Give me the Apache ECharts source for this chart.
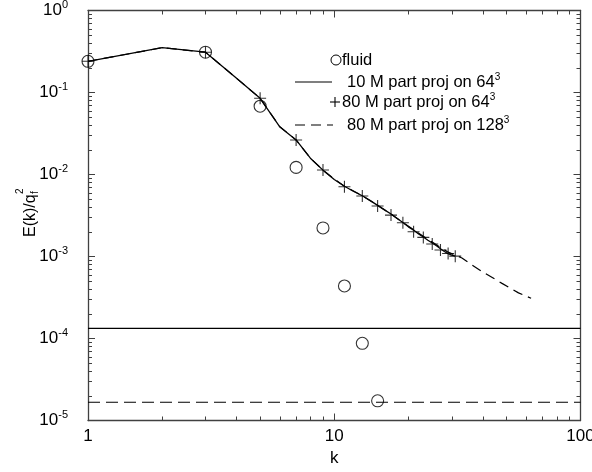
<!DOCTYPE html>
<html>
<head>
<meta charset="utf-8">
<script src="https://cdn.jsdelivr.net/npm/echarts@6/dist/echarts.min.js"></script>
<style>
  html, body { margin: 0; padding: 0; background: #fff; }
  #chart { width: 592px; height: 472px; }
</style>
</head>
<body>
<div id="chart"></div>
<script>
// Energy spectrum E(k)/q_f^2 of the fluid and of particle projections
const fluidK = [1, 3, 5, 7, 9, 11, 13, 15];
const fluidE = [0.24, 0.31, 0.068, 0.0122, 0.00223, 0.000437, 0.0000874, 0.0000174];

const proj10M64K = [1, 2, 3, 4, 5, 6, 7, 8, 9, 10, 11, 12, 13, 14, 15, 16, 17, 18, 19, 20,
                    21, 22, 23, 24, 25, 26, 27, 28, 29, 30, 31];
const proj10M64E = [0.24, 0.352, 0.31, 0.15, 0.085, 0.0383, 0.0264, 0.0158, 0.0113, 0.0087,
                    0.0072, 0.0062, 0.0055, 0.0048, 0.0042, 0.0037, 0.0033, 0.0029, 0.0026, 0.0023,
                    0.0021, 0.00188, 0.00173, 0.00158, 0.00146, 0.00135, 0.00124, 0.00115, 0.00108, 0.00104, 0.00101];

const proj80M64K = [1, 3, 5, 7, 9, 11, 13, 15, 17, 19, 21, 23, 25, 27, 29, 31];
const proj80M64E = [0.24, 0.31, 0.085, 0.0264, 0.01135, 0.0071, 0.00547, 0.00413, 0.0032, 0.00258,
                    0.002, 0.00171, 0.00142, 0.0012, 0.00109, 0.00101];

const proj80M128K = [1, 2, 3, 4, 5, 6, 7, 8, 9, 10, 11, 13, 15, 17, 19, 21, 23, 25, 27, 29, 31,
                     33, 36, 40, 44, 48, 52, 56, 60, 63];
const proj80M128E = [0.24, 0.352, 0.31, 0.15, 0.085, 0.0385, 0.0264, 0.0158, 0.0113, 0.0088, 0.0072,
                     0.0055, 0.0042, 0.0033, 0.0026, 0.00212, 0.00176, 0.0015, 0.00129, 0.00113, 0.00104,
                     0.00096, 0.0008, 0.00065, 0.00055, 0.00047, 0.00041, 0.00036, 0.00033, 0.00031];

// Noise levels of the two particle counts
const noise10M = 1.33e-4;
const noise80M = 1.67e-5;

const kRange = [1, 100];
const eRange = [1e-5, 1];

// Minor tick positions for the log axes
const xMinor = [2, 3, 4, 5, 6, 7, 8, 9, 20, 30, 40, 50, 60, 70, 80, 90];
const yMantissa = [2, 3, 4, 5, 6, 7, 8, 9];
const yDecades = [1e-5, 1e-4, 1e-3, 1e-2, 1e-1];

const FONT = "'Liberation Sans', Arial, Helvetica, sans-serif";
const AXIS_COLOR = '#404040';

const minorData = [];
xMinor.forEach(v => minorData.push([v, 1e-3, 0]));
yDecades.forEach(d => yMantissa.forEach(m => minorData.push([10, m * d, 1])));

const chart = echarts.init(document.getElementById('chart'), null, { renderer: 'canvas' });

const axisLine = { show: true, lineStyle: { color: AXIS_COLOR, width: 1.3 } };
const axisTick = { show: true, inside: true, length: 7, lineStyle: { color: AXIS_COLOR, width: 1 } };

const supRich = {
  b: { fontSize: 17, fontFamily: FONT, color: '#000', lineHeight: 22 },
  s: { fontSize: 11, fontFamily: FONT, color: '#000', lineHeight: 10, verticalAlign: 'top' }
};

function expLabel(v) {
  const e = Math.round(Math.log10(v));
  return '{b|10}{s|' + (e === 0 ? '0' : '-' + (-e)) + '}';
}

const legendRich = {
  b: { font: '16.5px ' + FONT, fill: '#000', lineHeight: 20 },
  s: { font: '10px ' + FONT, fill: '#000', lineHeight: 10, verticalAlign: 'top' }
};

const option = {
  backgroundColor: '#fff',
  animation: false,
  grid: { left: 88, top: 10.5, width: 492.5, height: 410, containLabel: false, outerBoundsMode: 'none' },
  xAxis: [
    {
      type: 'log', logBase: 10, min: kRange[0], max: kRange[1], position: 'bottom',
      axisLine: axisLine, axisTick: axisTick, splitLine: { show: false },
      axisLabel: { margin: 7, fontSize: 17, fontFamily: FONT, color: '#000',
                   showMinLabel: true, showMaxLabel: true, formatter: v => String(Math.round(v)) },
      name: 'k', nameLocation: 'middle', nameGap: 28,
      nameTextStyle: { fontSize: 17, fontFamily: FONT, color: '#000' }
    },
    {
      type: 'log', logBase: 10, min: kRange[0], max: kRange[1], position: 'top',
      axisLine: axisLine, axisTick: axisTick, splitLine: { show: false },
      axisLabel: { show: false }
    }
  ],
  yAxis: [
    {
      type: 'log', logBase: 10, min: eRange[0], max: eRange[1], position: 'left',
      axisLine: axisLine, axisTick: axisTick, splitLine: { show: false },
      axisLabel: { margin: 20, showMinLabel: true, showMaxLabel: true,
                   formatter: expLabel, rich: supRich }
    },
    {
      type: 'log', logBase: 10, min: eRange[0], max: eRange[1], position: 'right',
      axisLine: axisLine, axisTick: axisTick, splitLine: { show: false },
      axisLabel: { show: false }
    }
  ],
  series: [
    {
      name: 'minor ticks', type: 'custom', silent: true, clip: false, z: 1,
      data: minorData,
      renderItem: function (params, api) {
        const cs = params.coordSys;
        const style = { stroke: AXIS_COLOR, lineWidth: 1 };
        const len = 4;
        if (api.value(2) === 0) {
          const x = Math.round(api.coord([api.value(0), api.value(1)])[0]) + 0.5;
          const yb = cs.y + cs.height, yt = cs.y;
          return { type: 'group', children: [
            { type: 'line', shape: { x1: x, y1: yb, x2: x, y2: yb - len }, style: style },
            { type: 'line', shape: { x1: x, y1: yt, x2: x, y2: yt + len }, style: style }
          ] };
        }
        const y = Math.round(api.coord([api.value(0), api.value(1)])[1]) + 0.5;
        const xl = cs.x, xr = cs.x + cs.width;
        return { type: 'group', children: [
          { type: 'line', shape: { x1: xl, y1: y, x2: xl + len, y2: y }, style: style },
          { type: 'line', shape: { x1: xr, y1: y, x2: xr - len, y2: y }, style: style }
        ] };
      }
    },
    {
      name: 'noise 10M', type: 'line', showSymbol: false, symbol: 'none',
      data: kRange.map(k => [k, noise10M]),
      lineStyle: { color: '#000', width: 1.3 }
    },
    {
      name: 'noise 80M', type: 'line', showSymbol: false, symbol: 'none',
      data: kRange.map(k => [k, noise80M]),
      lineStyle: { color: '#000', width: 1.2, type: [12, 6] }
    },
    {
      name: '80 M part proj on 128', type: 'line', showSymbol: false, symbol: 'none',
      data: proj80M128K.map((k, i) => [k, proj80M128E[i]]),
      lineStyle: { color: '#000', width: 1.2, type: [10, 6] }
    },
    {
      name: '10 M part proj on 64', type: 'line', showSymbol: false, symbol: 'none',
      data: proj10M64K.map((k, i) => [k, proj10M64E[i]]),
      lineStyle: { color: '#000', width: 1.3 }
    },
    {
      name: '80 M part proj on 64', type: 'scatter',
      symbol: 'path://M6,0L6,12M0,6L12,6', symbolSize: 12,
      data: proj80M64K.map((k, i) => [k, proj80M64E[i]]),
      itemStyle: { color: 'rgba(0,0,0,0)', borderColor: '#000', borderWidth: 1.1 }
    },
    {
      name: 'fluid', type: 'scatter', symbol: 'circle', symbolSize: 12,
      data: fluidK.map((k, i) => [k, fluidE[i]]),
      itemStyle: { color: 'rgba(0,0,0,0)', borderColor: '#000', borderWidth: 1.1 }
    }
  ],
  graphic: [
    // y-axis title E(k)/q_f^2, read bottom to top
    {
      type: 'group', x: 31, y: 237, rotation: Math.PI / 2,
      children: [
        { type: 'text', x: 0, y: 0,
          style: { text: 'E(k)/q', font: '16px ' + FONT, fill: '#000', verticalAlign: 'middle', align: 'left' } },
        { type: 'text', x: 43, y: 4,
          style: { text: 'f', font: '10px ' + FONT, fill: '#000', verticalAlign: 'middle', align: 'left' } },
        { type: 'text', x: 43, y: -11,
          style: { text: '2', font: '10px ' + FONT, fill: '#000', verticalAlign: 'middle', align: 'left' } }
      ]
    },
    // legend
    {
      type: 'group', x: 0, y: 0,
      children: [
        { type: 'circle', shape: { cx: 336, cy: 60, r: 5 },
          style: { fill: 'none', stroke: '#000', lineWidth: 1 } },
        { type: 'text', x: 342, y: 60,
          style: { text: 'fluid', font: '16.5px ' + FONT, fill: '#000', verticalAlign: 'middle' } },

        { type: 'line', shape: { x1: 295, y1: 82, x2: 332, y2: 82 },
          style: { stroke: '#000', lineWidth: 1.1 } },
        { type: 'text', x: 347, y: 82,
          style: { text: '{b|10 M part proj on 64}{s|3}', verticalAlign: 'middle', rich: legendRich } },

        { type: 'line', shape: { x1: 330, y1: 102, x2: 340, y2: 102 },
          style: { stroke: '#000', lineWidth: 1.1 } },
        { type: 'line', shape: { x1: 335, y1: 97, x2: 335, y2: 107 },
          style: { stroke: '#000', lineWidth: 1.1 } },
        { type: 'text', x: 342, y: 102,
          style: { text: '{b|80 M part proj on 64}{s|3}', verticalAlign: 'middle', rich: legendRich } },

        { type: 'line', shape: { x1: 295, y1: 125, x2: 333, y2: 125 },
          style: { stroke: '#000', lineWidth: 1.1, lineDash: [10, 6] } },
        { type: 'text', x: 347, y: 125,
          style: { text: '{b|80 M part proj on 128}{s|3}', verticalAlign: 'middle', rich: legendRich } }
      ]
    }
  ]
};

chart.setOption(option);
</script>
</body>
</html>
